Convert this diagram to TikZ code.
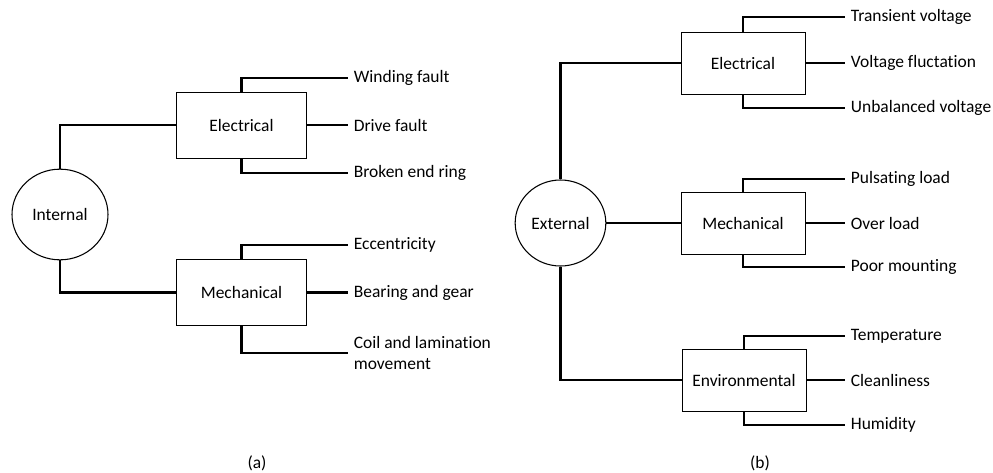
\documentclass[tikz,border=0pt]{standalone}
\usepackage{fontspec}
\setmainfont{Carlito}[RawFeature={-liga;-clig;-calt;-dlig}]
\usepackage{tikz}
\usetikzlibrary{shapes.geometric}

\tikzset{
  cause/.style={draw,ellipse,line width=0.8pt,inner sep=0pt},
  group/.style={draw,rectangle,line width=0.7pt,inner sep=0pt},
  item/.style={anchor=west,inner xsep=4.2pt,inner ysep=0pt,align=left},
  link/.style={line width=1.6pt}
}

\begin{document}
\begin{tikzpicture}[x=0.75pt,y=-0.75pt,font=\fontsize{13.1}{15.5}\selectfont]
  \useasboundingbox (0,0) rectangle (993,472);

  % (a) internal causes
  \node[cause,minimum width=72pt,minimum height=68pt] (int) at (60,214.5) {Internal};
  \node[group,minimum width=98pt,minimum height=49.5pt] (ielec) at (241.5,125) {Electrical};
  \node[group,minimum width=98pt,minimum height=49pt] (imech) at (241.5,292.5) {Mechanical};
  \draw[link] (int.north) |- (ielec.west);
  \draw[link] (int.south) |- (imech.west);

  \node[item] (wind) at (348,78) {Winding fault};
  \node[item] (drive) at (348,125) {Drive fault};
  \node[item] (ring) at (348,173) {Broken end ring};
  \draw[link] (ielec.north) |- (wind.west);
  \draw[link] (ielec.east) -- (drive.west);
  \draw[link] (ielec.south) |- (ring.west);

  \node[item] (ecc) at (348,245) {Eccentricity};
  \node[item] (bear) at (348,292.5) {Bearing and gear};
  \node[item] (coil) at (348,353) {Coil and lamination\\movement};
  \draw[link] (imech.north) |- (ecc.west);
  \draw[link] (imech.east) -- (bear.west);
  \draw[link] (imech.south) |- (coil.west);

  \node (capa) at (257,463) {(a)};

  % (b) external causes
  \node[cause,minimum width=68pt,minimum height=64.5pt] (ext) at (560.5,223) {External};
  \node[group,minimum width=93pt,minimum height=46.5pt] (eelec) at (743,63) {Electrical};
  \node[group,minimum width=93pt,minimum height=46.5pt] (emech) at (743,223) {Mechanical};
  \node[group,minimum width=93pt,minimum height=46.5pt] (eenv) at (744,380) {Environmental};
  \draw[link] (ext.north) |- (eelec.west);
  \draw[link] (ext.east) -- (emech.west);
  \draw[link] (ext.south) |- (eenv.west);

  \node[item] (trans) at (845,17) {Transient voltage};
  \node[item] (fluct) at (845,63) {Voltage fluctation};
  \node[item] (unbal) at (845,108) {Unbalanced voltage};
  \draw[link] (eelec.north) |- (trans.west);
  \draw[link] (eelec.east) -- (fluct.west);
  \draw[link] (eelec.south) |- (unbal.west);

  \node[item] (puls) at (845,179) {Pulsating load};
  \node[item] (over) at (845,223) {Over load};
  \node[item] (poor) at (845,267) {Poor mounting};
  \draw[link] (emech.north) |- (puls.west);
  \draw[link] (emech.east) -- (over.west);
  \draw[link] (emech.south) |- (poor.west);

  \node[item] (temp) at (845,336) {Temperature};
  \node[item] (clean) at (845,380) {Cleanliness};
  \node[item] (humid) at (845,425) {Humidity};
  \draw[link] (eenv.north) |- (temp.west);
  \draw[link] (eenv.east) -- (clean.west);
  \draw[link] (eenv.south) |- (humid.west);

  \node (capb) at (760,463) {(b)};
\end{tikzpicture}
\end{document}
